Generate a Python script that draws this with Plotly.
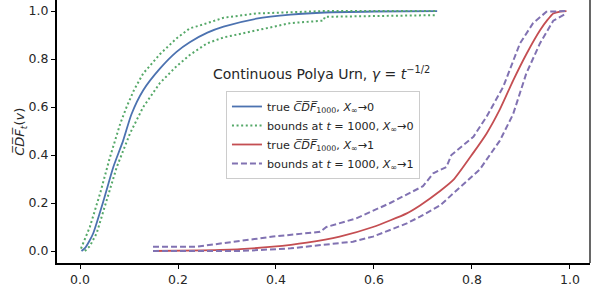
import plotly.graph_objects as go

# ---- data ----
v_true0 = [0.003, 0.01, 0.02, 0.027, 0.048, 0.068, 0.088, 0.105, 0.129, 0.163, 0.197, 0.224,
           0.26, 0.293, 0.36, 0.43, 0.5, 0.6, 0.729]
y_true0 = [0.0, 0.012, 0.045, 0.074, 0.21, 0.35, 0.46, 0.57, 0.67, 0.76, 0.83, 0.87,
           0.91, 0.935, 0.968, 0.985, 0.994, 0.998, 1.0]

v_up0 = [0.002, 0.01, 0.02, 0.041, 0.061, 0.082, 0.095, 0.11, 0.129, 0.163, 0.197, 0.224,
         0.245, 0.293, 0.36, 0.5, 0.729]
y_up0 = [0.01, 0.05, 0.10, 0.24, 0.39, 0.53, 0.60, 0.67, 0.74, 0.82, 0.886, 0.928,
         0.94, 0.972, 0.99, 1.0, 1.0]

v_lo0 = [0.01, 0.02, 0.034, 0.054, 0.075, 0.102, 0.129, 0.163, 0.197, 0.224, 0.259, 0.293,
         0.36, 0.43, 0.497, 0.50, 0.729]
y_lo0 = [0.0, 0.02, 0.074, 0.21, 0.35, 0.49, 0.60, 0.70, 0.77, 0.817, 0.865, 0.89,
         0.92, 0.95, 0.96, 0.976, 0.983]

v_true1 = [0.149, 0.25, 0.327, 0.394, 0.463, 0.53, 0.598, 0.667, 0.694, 0.735, 0.762, 0.803,
           0.83, 0.857, 0.884, 0.911, 0.939, 0.955, 0.966, 0.98, 0.993]
y_true1 = [0.0, 0.003, 0.008, 0.018, 0.035, 0.06, 0.10, 0.157, 0.19, 0.25, 0.296, 0.41,
           0.49, 0.59, 0.71, 0.82, 0.92, 0.965, 0.99, 0.998, 1.0]

v_up1 = [0.149, 0.238, 0.327, 0.394, 0.49, 0.503, 0.564, 0.633, 0.70, 0.721, 0.748, 0.758,
         0.803, 0.83, 0.864, 0.88, 0.898, 0.925, 0.952, 0.993]
y_up1 = [0.018, 0.018, 0.042, 0.06, 0.08, 0.10, 0.136, 0.20, 0.27, 0.324, 0.35, 0.40,
         0.476, 0.56, 0.685, 0.77, 0.865, 0.95, 0.997, 1.0]

v_lo1 = [0.149, 0.327, 0.43, 0.53, 0.557, 0.598, 0.667, 0.694, 0.735, 0.762, 0.816, 0.857,
         0.884, 0.911, 0.939, 0.966, 0.993]
y_lo1 = [0.0, 0.0, 0.011, 0.032, 0.039, 0.06, 0.115, 0.143, 0.19, 0.24, 0.34, 0.46,
         0.57, 0.74, 0.866, 0.96, 0.99]

x_ticks = [0.0, 0.2, 0.4, 0.6, 0.8, 1.0]
y_ticks = [0.0, 0.2, 0.4, 0.6, 0.8, 1.0]

BLUE, GREEN, RED, PURPLE = "#4C72B0", "#55A868", "#C44E52", "#8172B2"
OVL = "C\u0305D\u0305F\u0305"

lbl_true0 = f"true <i>{OVL}</i><sub>1000</sub>, <i>X</i><sub>∞</sub>→0"
lbl_bnd0 = "bounds at <i>t</i> = 1000, <i>X</i><sub>∞</sub>→0"
lbl_true1 = f"true <i>{OVL}</i><sub>1000</sub>, <i>X</i><sub>∞</sub>→1"
lbl_bnd1 = "bounds at <i>t</i> = 1000, <i>X</i><sub>∞</sub>→1"

fig = go.Figure()
fig.add_trace(go.Scatter(x=v_true0, y=y_true0, mode="lines", name=lbl_true0,
                         line=dict(color=BLUE, width=1.8, shape="spline", smoothing=0.6)))
fig.add_trace(go.Scatter(x=v_up0, y=y_up0, mode="lines", name=lbl_bnd0, legendgroup="b0",
                         line=dict(color=GREEN, width=2, dash="2px,2.6px")))
fig.add_trace(go.Scatter(x=v_lo0, y=y_lo0, mode="lines", name=lbl_bnd0, legendgroup="b0",
                         showlegend=False, line=dict(color=GREEN, width=2, dash="2px,2.6px")))
fig.add_trace(go.Scatter(x=v_true1, y=y_true1, mode="lines", name=lbl_true1,
                         line=dict(color=RED, width=1.8, shape="spline", smoothing=0.6)))
fig.add_trace(go.Scatter(x=v_up1, y=y_up1, mode="lines", name=lbl_bnd1, legendgroup="b1",
                         line=dict(color=PURPLE, width=2, dash="6px,3px")))
fig.add_trace(go.Scatter(x=v_lo1, y=y_lo1, mode="lines", name=lbl_bnd1, legendgroup="b1",
                         showlegend=False, line=dict(color=PURPLE, width=2, dash="6px,3px")))

axis_common = dict(showgrid=False, zeroline=False, showline=True, linecolor="black",
                   linewidth=2, ticks="outside", ticklen=4, tickwidth=1.2, tickcolor="black",
                   automargin=False,
                   tickfont=dict(family="DejaVu Sans", size=12.5, color="#262626"))

fig.update_xaxes(range=[-0.047, 1.041], tickvals=x_ticks, tickformat=".1f", **axis_common)
fig.update_yaxes(range=[-0.05, 1.046], tickvals=y_ticks, tickformat=".1f", **axis_common)

fig.add_shape(type="line", xref="paper", yref="paper", x0=1, x1=1, y0=0, y1=1,
              line=dict(color="black", width=1.2))

fig.add_annotation(text="Continuous Polya Urn, <i>γ</i> = <i>t</i><sup>−1/2</sup>",
                   xref="paper", yref="paper", x=0.497, y=0.722, showarrow=False,
                   xanchor="center", yanchor="middle",
                   font=dict(family="DejaVu Sans", size=14, color="#262626"))
fig.add_annotation(text=f"<i>{OVL}</i><sub><i>t</i></sub>(<i>v</i>)",
                   xref="paper", yref="paper", x=-0.069, y=0.5, showarrow=False,
                   textangle=-90, xanchor="center", yanchor="middle",
                   font=dict(family="DejaVu Sans", size=13, color="#262626"))
fig.add_annotation(text="<i>v</i>", xref="paper", yref="paper", x=0.5, y=-0.068,
                   showarrow=False, xanchor="center", yanchor="top",
                   font=dict(family="DejaVu Sans", size=13, color="#262626"))

fig.update_layout(
    width=597, height=288,
    margin=dict(l=57, r=7, t=0, b=25),
    plot_bgcolor="white", paper_bgcolor="white",
    font=dict(family="DejaVu Sans", color="#262626"),
    legend=dict(x=0.317, y=0.654, xanchor="left", yanchor="top",
                bgcolor="rgba(255,255,255,0.8)", bordercolor="#cccccc", borderwidth=1,
                font=dict(family="DejaVu Sans", size=11.2, color="#262626"),
                itemwidth=30, tracegroupgap=0),
    showlegend=True,
)

fig.write_html("out.html", config={"displayModeBar": False},
               post_script="document.body.style.margin='0';document.body.style.overflow='hidden';")
